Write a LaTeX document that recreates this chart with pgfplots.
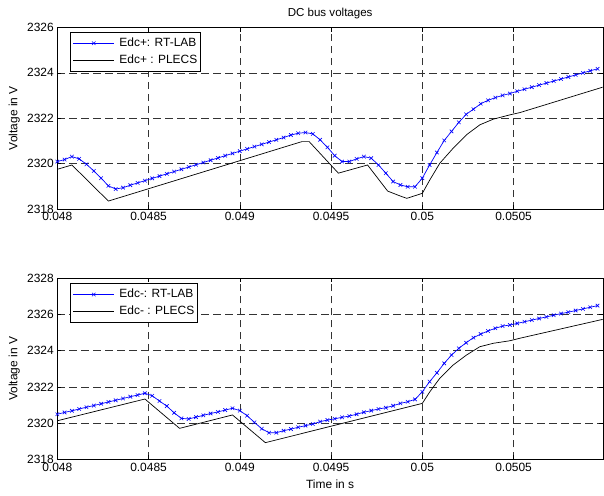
\documentclass[border=0pt]{standalone}
\usepackage{fontspec}
\setmainfont{Liberation Sans}
\usepackage{pgfplots}
\pgfplotsset{compat=1.18}
\pgfplotstableread{
t V
0.04800 2320.09
0.04804 2320.18
0.04808 2320.31
0.04812 2320.21
0.04816 2319.97
0.04820 2319.68
0.04824 2319.36
0.04828 2319.02
0.04832 2318.88
0.04836 2318.94
0.04840 2319.05
0.04844 2319.15
0.04848 2319.25
0.04852 2319.35
0.04856 2319.45
0.04860 2319.55
0.04864 2319.65
0.04868 2319.75
0.04872 2319.85
0.04876 2319.95
0.04880 2320.05
0.04884 2320.15
0.04888 2320.25
0.04892 2320.35
0.04896 2320.45
0.04900 2320.55
0.04904 2320.65
0.04908 2320.75
0.04912 2320.85
0.04916 2320.95
0.04920 2321.05
0.04924 2321.15
0.04928 2321.26
0.04932 2321.34
0.04936 2321.37
0.04940 2321.31
0.04944 2321.05
0.04948 2320.72
0.04952 2320.35
0.04956 2320.09
0.04960 2320.09
0.04964 2320.21
0.04968 2320.31
0.04972 2320.24
0.04976 2319.94
0.04980 2319.58
0.04984 2319.21
0.04988 2319.06
0.04992 2318.98
0.04996 2318.98
0.05000 2319.36
0.05004 2319.94
0.05008 2320.49
0.05012 2321.02
0.05016 2321.42
0.05020 2321.82
0.05024 2322.17
0.05028 2322.40
0.05032 2322.64
0.05036 2322.79
0.05040 2322.91
0.05044 2323.01
0.05048 2323.09
0.05052 2323.19
0.05056 2323.28
0.05060 2323.37
0.05064 2323.46
0.05068 2323.55
0.05072 2323.64
0.05076 2323.73
0.05080 2323.82
0.05084 2323.91
0.05088 2324.00
0.05092 2324.09
0.05096 2324.18
}\toprt
\pgfplotstableread{
t V
0.04800 2319.75
0.04808 2319.94
0.04828 2318.35
0.04934 2320.97
0.04938 2320.97
0.04954 2319.58
0.04970 2319.94
0.04981 2318.79
0.04988 2318.57
0.049915 2318.47
0.05000 2318.69
0.050041 2319.28
0.050096 2320.02
0.050169 2320.68
0.050242 2321.27
0.050315 2321.71
0.050389 2321.96
0.05048 2322.15
0.050535 2322.25
0.050988 2323.37
}\topplecs
\pgfplotstableread{
t V
0.04800 2320.49
0.04804 2320.59
0.04808 2320.68
0.04812 2320.78
0.04816 2320.88
0.04820 2320.97
0.04824 2321.07
0.04828 2321.17
0.04832 2321.26
0.04836 2321.36
0.04840 2321.46
0.04844 2321.55
0.04848 2321.65
0.04852 2321.51
0.04856 2321.22
0.04860 2320.94
0.04864 2320.57
0.04868 2320.26
0.04872 2320.23
0.04876 2320.33
0.04880 2320.43
0.04884 2320.53
0.04888 2320.62
0.04892 2320.72
0.04896 2320.82
0.04900 2320.69
0.04904 2320.41
0.04908 2320.04
0.04912 2319.69
0.04916 2319.47
0.04920 2319.47
0.04924 2319.58
0.04928 2319.67
0.04932 2319.77
0.04936 2319.86
0.04940 2319.95
0.04944 2320.08
0.04948 2320.17
0.04952 2320.24
0.04956 2320.32
0.04960 2320.39
0.04964 2320.49
0.04968 2320.60
0.04972 2320.69
0.04976 2320.78
0.04980 2320.85
0.04984 2320.96
0.04988 2321.09
0.04992 2321.18
0.04996 2321.31
0.05000 2321.73
0.05004 2322.29
0.05008 2322.78
0.05012 2323.30
0.05016 2323.76
0.05020 2324.13
0.05024 2324.44
0.05028 2324.72
0.05032 2324.92
0.05036 2325.09
0.05040 2325.24
0.05044 2325.36
0.05048 2325.42
0.05052 2325.51
0.05056 2325.60
0.05060 2325.69
0.05064 2325.78
0.05068 2325.87
0.05072 2325.96
0.05076 2326.05
0.05080 2326.13
0.05084 2326.22
0.05088 2326.31
0.05092 2326.40
0.05096 2326.49
}\botrt
\pgfplotstableread{
t V
0.04800 2320.13
0.04848 2321.33
0.04867 2319.71
0.04896 2320.45
0.04914 2318.92
0.05000 2321.09
0.050041 2321.73
0.050096 2322.48
0.050169 2323.21
0.050242 2323.76
0.050315 2324.22
0.050389 2324.41
0.05048 2324.55
0.050535 2324.69
0.050988 2325.73
}\botplecs
\begin{document}
\begin{tikzpicture}
\useasboundingbox (0bp,0bp) rectangle (604bp,-496bp);
\pgfplotsset{
  myaxis/.style={
    scale only axis, width=545.7bp,
    xmin=0.048, xmax=0.05099,
    xtick={0.048,0.0485,0.049,0.0495,0.05,0.0505},
    xticklabels={0.048,0.0485,0.049,0.0495,0.05,0.0505},
    scaled x ticks=false, scaled y ticks=false,
    grid=major,
    major grid style={black!80, dash pattern=on 7.5bp off 4.5bp, line width=0.6bp},
    tick align=inside, major tick length=4bp,
    tick style={black, line width=0.6bp},
    axis line style={line width=0.8bp},
    font=\fontsize{12}{14}\selectfont,
    /pgf/number format/assume math mode=true,
    ylabel={Voltage in V},
    ylabel style={at={(axis description cs:-0.0733,0.5)}, anchor=base},
    legend cell align=left,
    legend style={anchor=north west, draw=black, line width=0.8bp,
      inner xsep=2.7bp, inner ysep=5.2bp, row sep=6.2bp, column sep=5bp,
      nodes={inner sep=0bp, text height=8.6bp, text depth=2.5bp},
      font=\fontsize{12}{14}\selectfont},
    legend image code/.code={\draw[mark repeat=2,mark phase=2,##1] plot coordinates {(0bp,0bp) (20.3bp,0bp) (40.6bp,0bp)};},
  },
  rtlab/.style={color=blue, line width=0.7bp, mark=x, mark size=2.5bp, mark options={solid, line width=0.6bp}},
  plecs/.style={color=black, line width=0.7bp, no marks},
  every axis title shift=0pt,
}
\begin{axis}[myaxis, at={(57.3bp,-209bp)}, anchor=south west, height=181.5bp,
  ymin=2318, ymax=2326, ytick={2318,2320,2322,2324,2326},
  yticklabels={2318,2320,2322,2324,2326},
  legend style={at={(0.0233,0.975)}},
  title={DC bus voltages},
  title style={at={(axis description cs:0.5,1.0595)}, anchor=base, font=\fontsize{11.6}{14}\selectfont}]
\addplot[rtlab] table[x=t,y=V] {\toprt};
\addlegendentry{Edc+: RT-LAB\hspace{4bp}}
\addplot[plecs] table[x=t,y=V] {\topplecs};
\addlegendentry{Edc+ : PLECS\hspace{4bp}}
\end{axis}
\begin{axis}[myaxis, at={(57.3bp,-459.3bp)}, anchor=south west, height=181bp,
  ymin=2318, ymax=2328, ytick={2318,2320,2322,2324,2326,2328},
  yticklabels={2318,2320,2322,2324,2326,2328},
  legend style={at={(0.0233,0.972)}},
  xlabel={Time in s},
  xlabel style={at={(axis description cs:0.5,-0.1624)}, anchor=base}]
\addplot[rtlab] table[x=t,y=V] {\botrt};
\addlegendentry{Edc-: RT-LAB\hspace{4bp}}
\addplot[plecs] table[x=t,y=V] {\botplecs};
\addlegendentry{Edc- : PLECS\hspace{4bp}}
\end{axis}
\end{tikzpicture}
\end{document}
